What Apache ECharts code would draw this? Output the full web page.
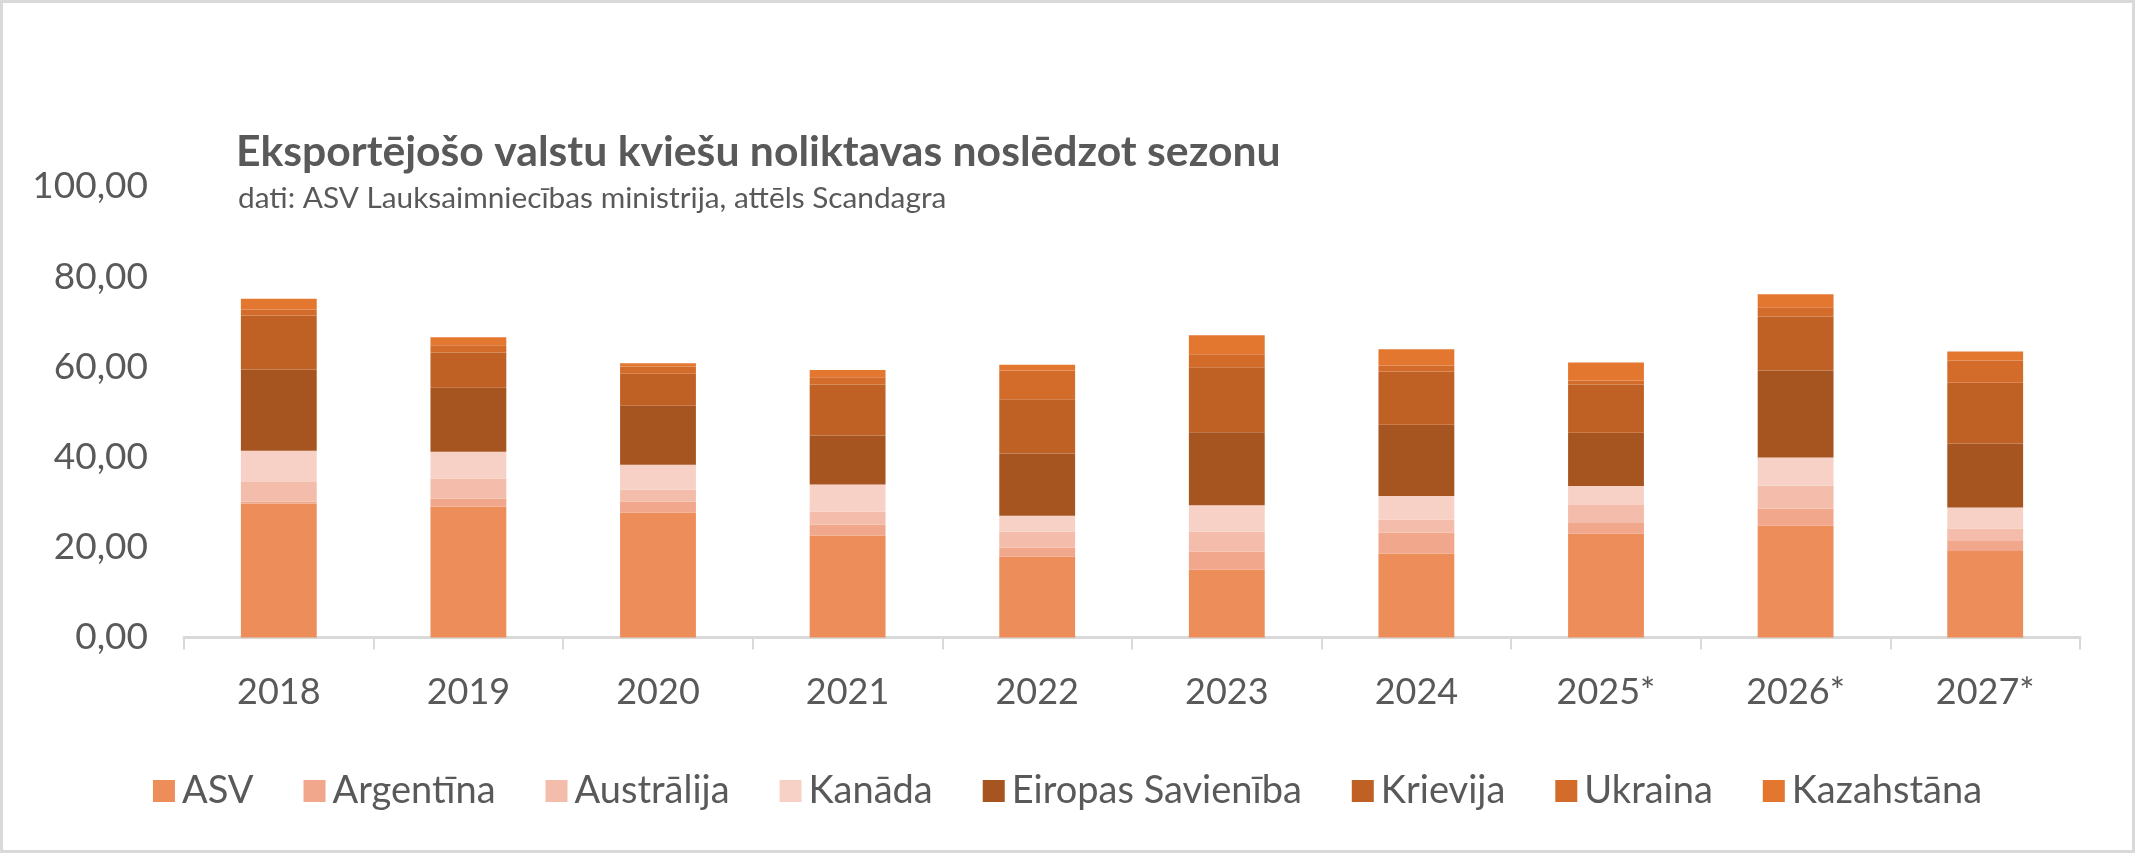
<!DOCTYPE html>
<html>
<head>
<meta charset="utf-8">
<script src="https://cdn.jsdelivr.net/npm/echarts@6/dist/echarts.min.js"></script>
<style>
  html, body { margin: 0; padding: 0; background: #fff; }
  #main { width: 2135px; height: 853px; box-sizing: border-box; border: 3px solid #d9d9d9; }
</style>
</head>
<body>
<div id="main"></div>
<script>
// gadi (kategorijas)
var years = ['2018', '2019', '2020', '2021', '2022', '2023', '2024', '2025*', '2026*', '2027*'];
// sērijas, milj. t
var asv = [29.7, 29.0, 27.7, 22.6, 17.9, 15.0, 18.6, 23.0, 24.8, 19.2];
var argentina = [0.4, 1.8, 2.4, 2.4, 2.0, 4.0, 4.6, 2.4, 3.8, 2.2];
var australija = [4.4, 4.4, 2.7, 2.9, 3.6, 4.5, 2.9, 4.0, 5.1, 2.7];
var kanada = [6.9, 6.0, 5.5, 6.0, 3.5, 5.8, 5.3, 4.2, 6.2, 4.7];
var es = [18.0, 14.2, 13.1, 10.9, 13.8, 16.2, 15.8, 11.8, 19.3, 14.2];
var krievija = [12.0, 7.8, 7.1, 11.3, 12.0, 14.4, 11.8, 10.7, 12.0, 13.5];
var ukraina = [1.3, 1.6, 1.6, 1.6, 6.4, 2.9, 1.3, 0.9, 2.0, 4.9];
var kazahstana = [2.4, 1.8, 0.7, 1.6, 1.3, 4.2, 3.6, 4.0, 2.9, 2.0];

var seriesNames = ['ASV', 'Argentīna', 'Austrālija', 'Kanāda', 'Eiropas Savienība', 'Krievija', 'Ukraina', 'Kazahstāna'];
var seriesData = [asv, argentina, australija, kanada, es, krievija, ukraina, kazahstana];
var colors = ['#ED8D5A', '#F0A78B', '#F4BCAA', '#F7D1C5', '#A65520', '#BF6125', '#D36C2B', '#E37730'];

var textColor = '#595959';
var font = 'Lato';

var myChart = echarts.init(document.getElementById('main'));

var series = [];
for (var i = 0; i < seriesNames.length; i++) {
    series.push({
        name: seriesNames[i],
        type: 'bar',
        stack: 'total',
        barWidth: '40%',
        itemStyle: { color: colors[i] },
        data: seriesData[i]
    });
}

var option = {
    animation: false,
    color: colors,
    title: [
        {
            text: 'Eksportējošo valstu kviešu noliktavas noslēdzot sezonu',
            left: 228,
            top: 121,
            textStyle: { fontFamily: font, fontSize: 42.7, fontWeight: 'bold', color: textColor, lineHeight: 46 }
        },
        {
            text: 'dati: ASV Lauksaimniecības ministrija, attēls Scandagra',
            left: 230,
            top: 173,
            textStyle: { fontFamily: font, fontSize: 29.8, fontWeight: 'normal', color: textColor, lineHeight: 34 }
        }
    ],
    legend: {
        data: seriesNames,
        left: 'center',
        top: 764,
        itemWidth: 22,
        itemHeight: 22,
        itemGap: 50,
        icon: 'rect',
        textStyle: { fontFamily: font, fontSize: 38, color: textColor, padding: [0, 0, 0, 2] }
    },
    grid: {
        left: 181,
        right: 52,
        top: 183.5,
        bottom: 212.5,
        containLabel: false
    },
    xAxis: {
        type: 'category',
        data: years,
        axisLine: { lineStyle: { color: '#d9d9d9', width: 3 } },
        axisTick: { show: true, length: 12, lineStyle: { color: '#d9d9d9', width: 2 } },
        axisLabel: { fontFamily: font, fontSize: 36, color: textColor, margin: 37 }
    },
    yAxis: {
        type: 'value',
        min: 0,
        max: 100,
        interval: 20,
        axisLine: { show: false },
        axisTick: { show: false },
        splitLine: { show: false },
        axisLabel: {
            fontFamily: font,
            fontSize: 37,
            color: textColor,
            margin: 36,
            formatter: function (v) { return v.toFixed(2).replace('.', ','); }
        }
    },
    series: series
};

myChart.setOption(option);
</script>
</body>
</html>
